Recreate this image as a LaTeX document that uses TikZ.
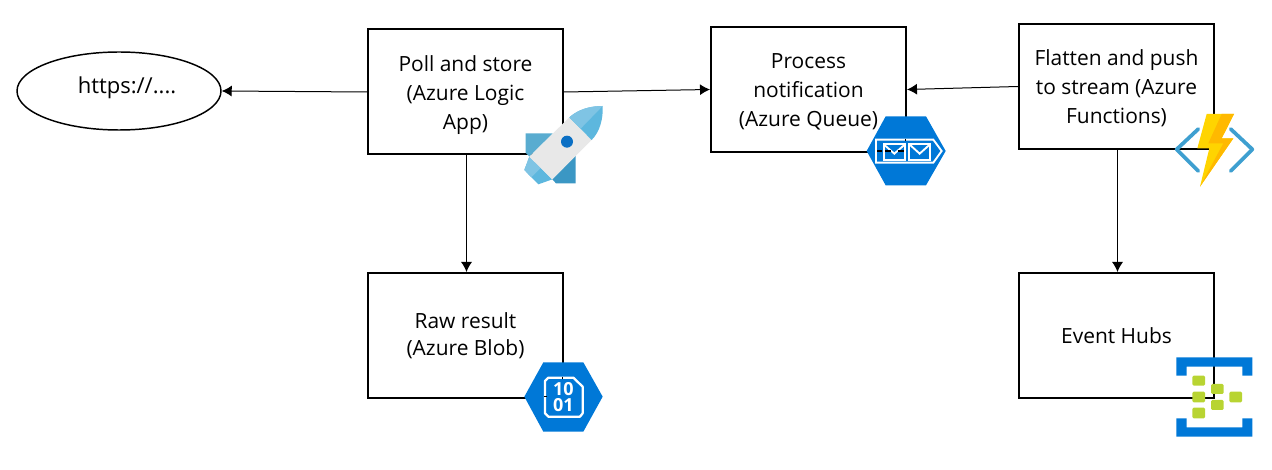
\documentclass[tikz,border=0pt]{standalone}
\usepackage{fontspec}
\setmainfont{Open Sans}
\usetikzlibrary{arrows.meta,positioning,shapes.geometric}
\definecolor{azureblue}{HTML}{0078D7}
\definecolor{skyfin}{HTML}{59ACD0}
\definecolor{skyfindark}{HTML}{3B97C4}
\definecolor{skynose}{HTML}{5DB7DE}
\definecolor{skynoselight}{HTML}{7FC4E4}
\definecolor{hullgrey}{HTML}{E8E8E8}
\definecolor{porthole}{HTML}{0A6FC4}
\definecolor{bracketblue}{HTML}{3E9FD0}
\definecolor{boltlight}{HTML}{FFD400}
\definecolor{boltdark}{HTML}{FFB900}
\definecolor{hubgreen}{HTML}{B8D432}
\newcommand{\boxstrut}{\rule{0pt}{15pt}}
\tikzset{
	stepbox/.style={draw=black,line width=1.5pt,minimum width=146.25pt,minimum height=93.75pt,align=center,inner sep=0pt,font=\fontsize{15.7}{21.75}\selectfont},
	flow/.style={draw=black,line width=.75pt,-{Latex[length=7.5pt,width=8.25pt]}},
	peek/.style={draw=black,line width=1pt},
	icon/.style={x=.25pt,y=-.25pt},
	hubsquare/.style={fill=hubgreen,rounded corners=1pt},
}
\begin{document}
\begin{tikzpicture}[x=.75pt,y=-.75pt]
	\useasboundingbox (0,0) rectangle (1272,470);
	\node[draw=black,line width=1.1pt,ellipse,minimum width=153pt,minimum height=58.5pt,inner sep=0pt] (site) at (119,91) {};
	\node[inner sep=0pt,font=\fontsize{16.5}{21.75}\selectfont] (sitetext) at (127,88) {https://....};
	\node[stepbox] (poll) at (465.5,92) {\rule{0pt}{16.5pt}Poll and store\\(Azure Logic\\App)};
	\node[stepbox] (process) at (808.5,89.5) {\boxstrut Process\\notification\\(Azure Queue)};
	\node[stepbox] (flatten) at (1116.5,86.5) {\boxstrut Flatten and push\\to stream (Azure\\Functions)};
	\node[stepbox,font=\fontsize{15.7}{20.25}\selectfont] (raw) at (465.5,335.5) {Raw result\\(Azure Blob)};
	\node[stepbox] (hubs) at (1116.5,335.5) {Event Hubs};
	\draw[flow] (poll.west) -- (site.east);
	\draw[flow] (poll.east) -- (process.west);
	\draw[flow] (flatten.west) -- (process.east);
	\draw[flow] ([xshift=.75pt]poll.south) -- ([xshift=.75pt]raw.north);
	\draw[flow] ([xshift=.75pt]flatten.south) -- ([xshift=.75pt]hubs.north);
	% rocket
	\begin{scope}[shift={(510,90)},icon]
		\fill[skyfin] (47,130) -- (128,130) -- (58,200) -- (47,188) -- cycle;
		\fill[skyfindark] (127,268) -- (197,197) -- (197,280) -- (138,280) -- cycle;
		\fill[skynose] (58,200) -- (127,268) -- (85,283) -- (43,240) -- cycle;
		\fill[skynoselight] (58,200) -- (92,234) -- (64,262) -- (43,240) -- cycle;
		\fill[hullgrey] (58,200) -- (178,82) -- (245,150) -- (127,268) -- cycle;
		\fill[skynose] (178,82) .. controls (205,58) and (240,48) .. (278,48) .. controls (280,85) and (270,125) .. (245,150) -- cycle;
		\fill[skynoselight] (178,82) .. controls (205,58) and (240,48) .. (278,48) -- (212,116) -- cycle;
		\fill[porthole] (171,155) circle (18);
	\end{scope}
	% queue
	\begin{scope}[shift={(855,105)},icon]
		\fill[azureblue] (35,138) -- (92,34) -- (213,34) -- (272,138) -- (213,241) -- (92,241) -- cycle;
		\draw[white,line width=1.4pt] (63,104) -- (235,104) -- (260,138) -- (235,173) -- (63,173) -- cycle;
		\draw[white,line width=1.4pt] (86,118) rectangle (150,165);
		\draw[white,line width=1.4pt] (163,118) rectangle (225,165);
		\draw[white,line width=1.4pt] (86,118) -- (118,146) -- (150,118);
		\draw[white,line width=1.4pt] (163,118) -- (194,146) -- (225,118);
		\draw[peek] (66,138) -- (82,138);
		\draw[peek] (90,138) -- (108,138);
		\draw[peek] (128,138) -- (147,138);
		\draw[peek] (152,101) -- (152,108);
	\end{scope}
	% functions
	\begin{scope}[shift={(1165,105)},icon]
		\draw[bracketblue,line width=2.8pt,line cap=round,line join=round] (100,72) -- (35,133) -- (100,198);
		\draw[bracketblue,line width=2.8pt,line cap=round,line join=round] (197,72) -- (262,133) -- (197,198);
		\fill[boltlight] (125,27) -- (207,27) -- (170,100) -- (205,100) -- (105,245) -- (133,130) -- (97,130) -- cycle;
		\fill[boltdark] (170,27) -- (207,27) -- (170,100) -- (205,100) -- (105,245) -- (175,115) -- (130,115) -- cycle;
	\end{scope}
	% blob
	\begin{scope}[shift={(515,355)},icon]
		\fill[azureblue] (28,125) -- (85,22) -- (205,22) -- (263,125) -- (205,230) -- (85,230) -- cycle;
		\draw[white,line width=1.7pt,line join=round] (100,68) -- (175,68) -- (203,95) -- (203,175) -- (195,185) -- (100,185) -- (90,175) -- (90,78) -- cycle;
		\draw[peek] (88,125) -- (95,125);
		\draw[peek] (143,65) -- (143,72);
		\node[white,inner sep=0pt,font=\fontsize{13.5}{14}\selectfont\bfseries] (blobtop) at (145,102) {10};
		\node[white,inner sep=0pt,font=\fontsize{13.5}{14}\selectfont\bfseries] (blobbottom) at (145,150) {01};
	\end{scope}
	% hubs
	\begin{scope}[shift={(1165,350)},icon]
		\fill[azureblue] (34,22) -- (262,22) -- (262,77) -- (232,77) -- (232,50) -- (65,50) -- (65,77) -- (34,77) -- cycle;
		\fill[azureblue] (34,205) -- (65,205) -- (65,232) -- (232,232) -- (232,205) -- (262,205) -- (262,260) -- (34,260) -- cycle;
		\fill[hubsquare] (82,77) rectangle (120,107);
		\fill[hubsquare] (82,125) rectangle (120,157);
		\fill[hubsquare] (82,173) rectangle (120,205);
		\fill[hubsquare] (138,102) rectangle (176,132);
		\fill[hubsquare] (138,150) rectangle (176,180);
		\fill[hubsquare] (193,125) rectangle (231,157);
	\end{scope}
\end{tikzpicture}
\end{document}
